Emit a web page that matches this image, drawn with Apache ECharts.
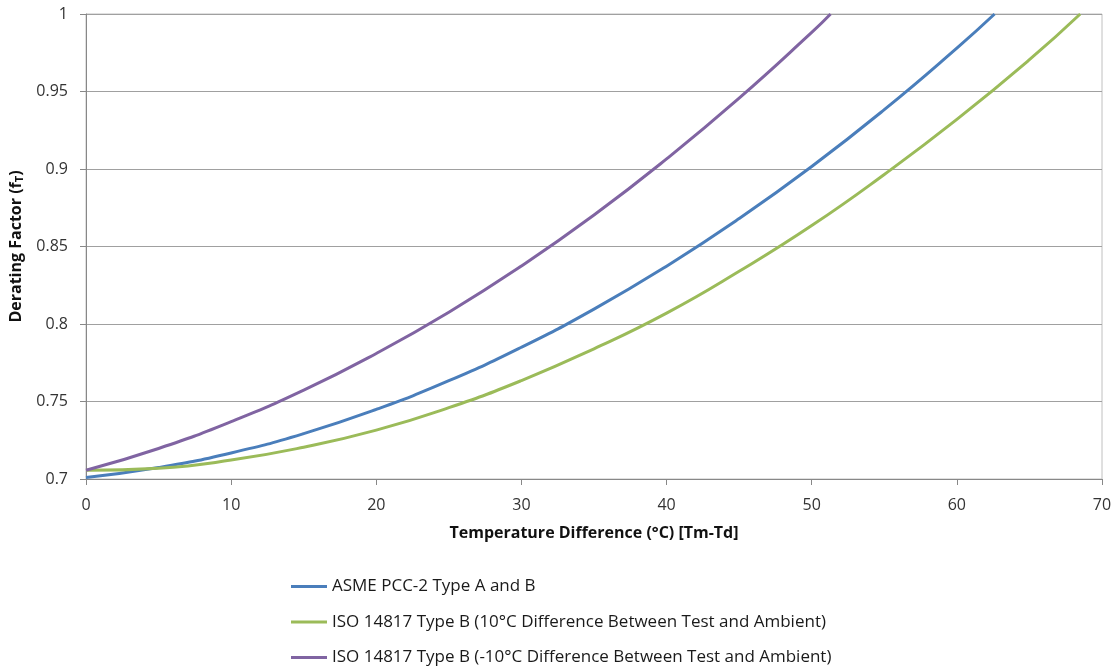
<!DOCTYPE html>
<html>
<head>
<meta charset="utf-8">
<script src="https://cdn.jsdelivr.net/npm/echarts@6/dist/echarts.min.js"></script>
<style>
  html, body { margin: 0; padding: 0; background: #fff; }
  #app { width: 1115px; height: 666px; }
</style>
</head>
<body>
<div id="app"></div>
<script>
const app = document.getElementById("app");
const myChart = echarts.init(app);

const seriesNames = [
  "ASME PCC-2 Type A and B",
  "ISO 14817 Type B (10°C Difference Between Test and Ambient)",
  "ISO 14817 Type B (-10°C Difference Between Test and Ambient)",
];

// values: temperature difference -> derating factor
const asmeX = [0, 5, 10, 15, 20, 25, 30, 35, 40, 45, 50, 55, 60, 62.6];
const asmeY = [0.701, 0.7074, 0.7168, 0.7293, 0.7449, 0.7634, 0.785, 0.8096, 0.8373, 0.868, 0.9016, 0.9383, 0.978, 1.0];

const isoPosX = [0, 5, 10, 15, 20, 25, 30, 35, 40, 45, 50, 55, 60, 65, 68.5];
const isoPosY = [0.7056, 0.707, 0.7122, 0.7205, 0.7315, 0.746, 0.7635, 0.784, 0.807, 0.834, 0.8635, 0.8965, 0.932, 0.9705, 1.0];

const isoNegX = [0, 5, 10, 15, 20, 25, 30, 35, 40, 45, 50, 51.3];
const isoNegY = [0.7056, 0.7197, 0.737, 0.7573, 0.781, 0.8076, 0.8374, 0.8703, 0.9065, 0.9457, 0.9881, 1.0];

const colors = ["#4a7ebb", "#9bbb59", "#8064a2"];

const zip = (xs, ys) => xs.map((x, i) => [x, ys[i]]);

const font = "Open Sans";

const option = {
  animation: false,
  textStyle: { fontFamily: font },
  grid: {
    left: 86,
    right: 13,
    top: 14,
    bottom: 187,
    show: true,
    borderColor: "#c0c0c0",
    borderWidth: 1,
  },
  legend: {
    orient: "vertical",
    left: 286,
    top: 571,
    height: 120,
    icon: "rect",
    itemWidth: 36,
    itemHeight: 3,
    itemGap: 14.5,
    textStyle: { fontSize: 17, color: "#1a1a1a", fontFamily: font, lineHeight: 21 },
    data: seriesNames,
  },
  xAxis: {
    type: "value",
    min: 0,
    max: 70,
    interval: 10,
    name: "Temperature Difference (°C) [Tm-Td]",
    nameLocation: "middle",
    nameGap: 46,
    nameTextStyle: { fontSize: 16, fontWeight: "bold", color: "#111", fontFamily: font },
    axisLine: { lineStyle: { color: "#888" } },
    axisTick: { show: true, length: 6, lineStyle: { color: "#888" } },
    axisLabel: { fontSize: 16, color: "#333", margin: 18 },
    splitLine: { show: false },
  },
  yAxis: {
    type: "value",
    min: 0.7,
    max: 1,
    interval: 0.05,
    name: "{a|Derating Factor (f}{s|T}{a|)}",
    nameLocation: "middle",
    nameGap: 60,
    nameTextStyle: {
      rich: {
        a: { fontSize: 16, fontWeight: "bold", color: "#111", fontFamily: font },
        s: { fontSize: 11, fontWeight: "bold", color: "#111", fontFamily: font, padding: [7, 0, 0, 0] },
      },
    },
    axisLine: { show: true, lineStyle: { color: "#888" } },
    axisTick: { show: true, length: 6, lineStyle: { color: "#888" } },
    axisLabel: { fontSize: 16, color: "#333", margin: 18 },
    splitLine: { show: true, lineStyle: { color: "#a0a0a0" } },
  },
  series: [
    { name: seriesNames[0], data: zip(asmeX, asmeY) },
    { name: seriesNames[1], data: zip(isoPosX, isoPosY) },
    { name: seriesNames[2], data: zip(isoNegX, isoNegY) },
  ].map((s, i) => ({
    ...s,
    type: "line",
    smooth: true,
    symbol: "none",
    color: colors[i],
    lineStyle: { width: 3, color: colors[i] },
  })),
};

myChart.setOption(option);
</script>
</body>
</html>
